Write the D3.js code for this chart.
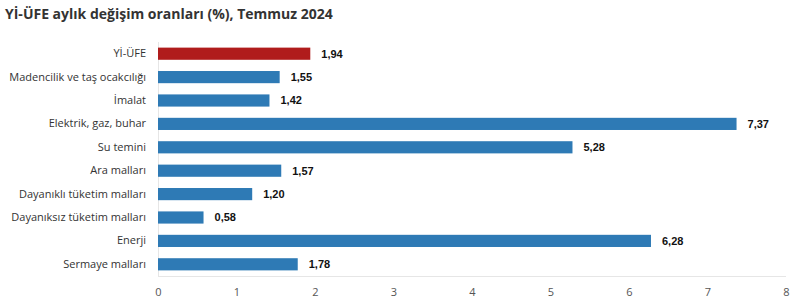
<!DOCTYPE html>
<html>
<head>
<meta charset="utf-8">
<script src="https://cdn.jsdelivr.net/npm/d3@7"></script>
<style>
  body { margin: 0; background: #fff; }
  svg { display: block; }
</style>
</head>
<body>
<div id="chart"></div>
<script>
let categories = [
  "Yİ-ÜFE",
  "Madencilik ve taş ocakcılığı",
  "İmalat",
  "Elektrik, gaz, buhar",
  "Su temini",
  "Ara malları",
  "Dayanıklı tüketim malları",
  "Dayanıksız tüketim malları",
  "Enerji",
  "Sermaye malları",
];
let values = [1.94, 1.55, 1.42, 7.37, 5.28, 1.57, 1.2, 0.58, 6.28, 1.78];
let xTicks = [0, 1, 2, 3, 4, 5, 6, 7, 8];

let svgWidth = 801;
let svgHeight = 307;
let plotLeft = 158;
let plotRight = 786;
let plotTop = 42;
let plotBottom = 276;

let svg = d3
  .select("#chart")
  .append("svg")
  .attr("width", svgWidth)
  .attr("height", svgHeight);

svg
  .append("text")
  .text("Yİ-ÜFE aylık değişim oranları (%), Temmuz 2024")
  .attr("x", 5)
  .attr("y", 19)
  .style("font-family", "'Open Sans', 'Noto Sans', sans-serif")
  .style("font-size", "14px")
  .style("font-weight", "bold")
  .style("fill", "#333");

let xScale = d3.scaleLinear().domain([0, 8]).range([plotLeft, plotRight]);
let yScale = d3
  .scaleBand()
  .domain(categories)
  .range([plotTop, plotBottom])
  .paddingInner(0.48)
  .paddingOuter(0.24);

// baseline + left line
svg
  .append("line")
  .attr("x1", plotLeft)
  .attr("x2", plotRight)
  .attr("y1", plotBottom + 0.5)
  .attr("y2", plotBottom + 0.5)
  .attr("stroke", "#e6e6e6");
svg
  .append("line")
  .attr("x1", plotLeft + 0.5)
  .attr("x2", plotLeft + 0.5)
  .attr("y1", plotTop)
  .attr("y2", plotBottom)
  .attr("stroke", "#e6e6e6");

let xAxis = d3.axisBottom(xScale).tickValues(xTicks).tickSize(0).tickPadding(12);
let gx = svg
  .append("g")
  .attr("transform", "translate(0," + plotBottom + ")")
  .call(xAxis);
gx.select(".domain").remove();
gx.selectAll("text")
  .style("font-family", "'Open Sans', 'Noto Sans', sans-serif")
  .style("font-size", "11px")
  .style("fill", "#555");

let yAxis = d3.axisLeft(yScale).tickSize(0).tickPadding(12);
let gy = svg
  .append("g")
  .attr("transform", "translate(" + plotLeft + ",0)")
  .call(yAxis);
gy.select(".domain").remove();
gy.selectAll("text")
  .style("font-family", "'Open Sans', 'Noto Sans', sans-serif")
  .style("font-size", "11px")
  .style("fill", "#333");

svg
  .selectAll("rect.bar")
  .data(values)
  .enter()
  .append("rect")
  .attr("class", "bar")
  .attr("x", xScale(0))
  .attr("y", (d, i) => yScale(categories[i]))
  .attr("width", (d) => xScale(d) - xScale(0))
  .attr("height", yScale.bandwidth())
  .attr("fill", (d, i) => (i === 0 ? "#b01c1c" : "#2e7ab5"));

svg
  .selectAll("text.val")
  .data(values)
  .enter()
  .append("text")
  .attr("class", "val")
  .text((d) => d.toFixed(2).replace(".", ","))
  .attr("x", (d) => xScale(d) + 11)
  .attr("y", (d, i) => yScale(categories[i]) + yScale.bandwidth() / 2)
  .attr("dy", "0.35em")
  .style("font-family", "'Liberation Sans', Arial, sans-serif")
  .style("font-size", "11px")
  .style("font-weight", "bold")
  .style("fill", "#111");
</script>
</body>
</html>
